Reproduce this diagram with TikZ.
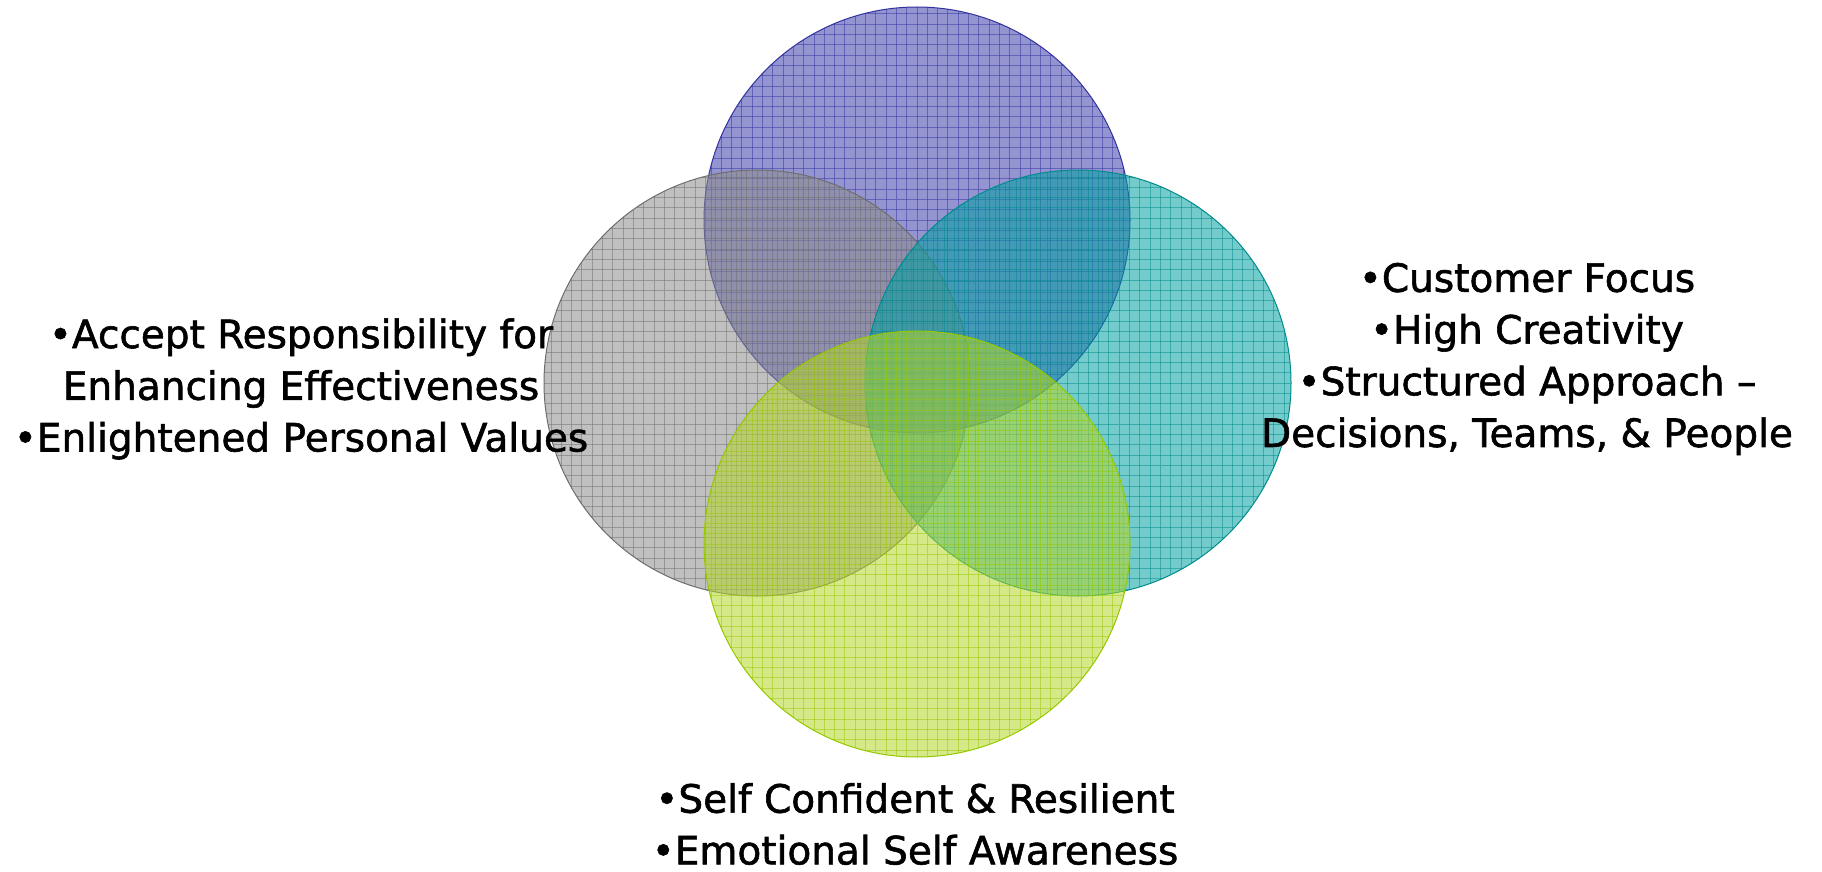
\documentclass[tikz,border=0pt]{standalone}
\usepackage{fontspec}
\newfontfamily\vennfont{DejaVu Sans}[FakeBold=1.5]
\usetikzlibrary{calc}

\definecolor{topfill}{RGB}{60,60,170}
\definecolor{topline}{RGB}{50,50,160}
\definecolor{grayfill}{RGB}{140,140,140}
\definecolor{grayline}{RGB}{110,110,110}
\definecolor{tealfill}{RGB}{0,160,160}
\definecolor{tealline}{RGB}{0,140,140}
\definecolor{greenfill}{RGB}{180,215,40}
\definecolor{greenline}{RGB}{150,200,0}

\begin{document}
\begin{tikzpicture}[x = 1pt, y = -1pt,
	venntext/.style = {align = center, inner sep = 0pt, font = \vennfont\fontsize{39}{51.7}\selectfont}]
	\useasboundingbox (0,0) rectangle (1822,872);
	\coordinate (top) at (917,220);
	\coordinate (left) at (757,383);
	\coordinate (right) at (1078,383);
	\coordinate (bottom) at (917,544);
	\foreach \where/\fc/\lc in {top/topfill/topline, left/grayfill/grayline,
		right/tealfill/tealline, bottom/greenfill/greenline}
	{
		\fill[\fc, fill opacity = 0.55] (\where) circle (213);
		\begin{scope}
			\clip (\where) circle (213);
			\foreach \k in {-21,...,21}
				\draw[\lc, draw opacity = 0.5, line width = 1pt]
					($(\where)+(\k*10.3,-215)$) -- ($(\where)+(\k*10.3,215)$)
					($(\where)+(-215,\k*10.3)$) -- ($(\where)+(215,\k*10.3)$);
		\end{scope}
		\draw[\lc, line width = 1pt] (\where) circle (213);
	}
	\node[venntext] (values) at (301,389) {•Accept Responsibility for\\Enhancing Effectiveness\\•Enlightened Personal Values};
	\node[venntext] (approach) at (1527,359) {•Customer Focus\\•High Creativity\\•Structured Approach –\\Decisions, Teams, \& People};
	\node[venntext] (resilience) at (915,824) {•Self Confident \& Resilient\\•Emotional Self Awareness};
\end{tikzpicture}
\end{document}
